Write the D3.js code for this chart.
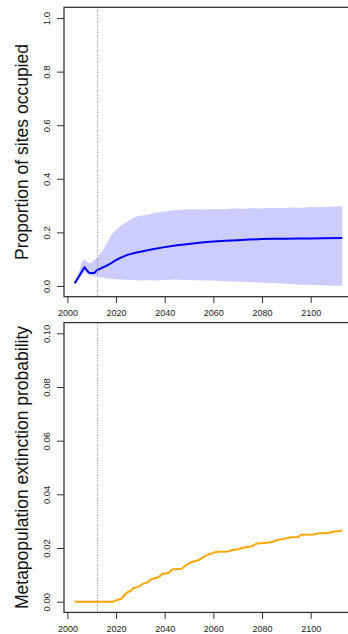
<!DOCTYPE html>
<html>
<head>
<meta charset="utf-8">
<script src="https://cdn.jsdelivr.net/npm/d3@7"></script>
<style>
  body { margin: 0; background: #fff; }
  text { font-family: "Liberation Sans", Arial, sans-serif; }
</style>
</head>
<body>
<div class="chart"></div>
<script>
// top panel: proportion of sites occupied
const meanYears = [2003, 2004, 2005, 2006, 2007, 2008, 2009, 2010, 2011, 2012, 2014, 2016, 2018, 2020,
  2022, 2025, 2028, 2030, 2035, 2040, 2045, 2050, 2055, 2060, 2065, 2070, 2075, 2080, 2085, 2090,
  2095, 2100, 2105, 2113];
const meanOcc = [0.01, 0.025, 0.04, 0.055, 0.07, 0.058, 0.049, 0.048, 0.048, 0.058, 0.067, 0.075, 0.085, 0.097,
  0.106, 0.117, 0.124, 0.128, 0.137, 0.145, 0.152, 0.157, 0.162, 0.166, 0.169, 0.171, 0.173, 0.175, 0.176, 0.176,
  0.177, 0.177, 0.178, 0.179];

const bandYears = [2003, 2004, 2005, 2006, 2007, 2008, 2009, 2010, 2011, 2012, 2014, 2016, 2018, 2020,
  2022, 2024, 2026, 2028, 2030, 2033, 2036, 2040, 2044, 2048, 2052, 2056, 2060, 2064, 2068, 2072,
  2076, 2080, 2084, 2088, 2092, 2096, 2100, 2104, 2108, 2113];
const bandUpper = [0.015, 0.035, 0.06, 0.09, 0.1, 0.09, 0.085, 0.088, 0.095, 0.105, 0.125, 0.155, 0.19, 0.21,
  0.225, 0.237, 0.248, 0.258, 0.262, 0.266, 0.272, 0.278, 0.283, 0.285, 0.286, 0.285, 0.287, 0.286, 0.289, 0.288,
  0.29, 0.289, 0.292, 0.29, 0.293, 0.292, 0.295, 0.294, 0.297, 0.298];
const bandLower = [0.005, 0.015, 0.025, 0.04, 0.05, 0.045, 0.04, 0.038, 0.036, 0.035, 0.032, 0.029, 0.027, 0.025,
  0.024, 0.023, 0.022, 0.021, 0.02, 0.021, 0.02, 0.022, 0.024, 0.022, 0.021, 0.02, 0.02, 0.018, 0.017, 0.016,
  0.014, 0.012, 0.011, 0.009, 0.007, 0.005, 0.004, 0.003, 0.002, 0.001];

// bottom panel: metapopulation extinction probability
const extYears = [2003, 2019, 2020, 2022, 2023, 2024, 2025, 2026, 2027, 2029, 2030, 2031, 2033, 2034, 2035,
  2037, 2038, 2039, 2041, 2042, 2043, 2047, 2048, 2050, 2052, 2054, 2056, 2058, 2060, 2062, 2066, 2068,
  2070, 2072, 2075, 2076, 2078, 2082, 2084, 2086, 2088, 2090, 2092, 2095, 2096, 2101, 2103, 2107, 2109,
  2111, 2113];
const extProb = [0, 0, 0.0005, 0.001, 0.002, 0.003, 0.0037, 0.004, 0.005, 0.0055, 0.006, 0.0067, 0.0072, 0.008, 0.0085,
  0.009, 0.0095, 0.0103, 0.0106, 0.011, 0.012, 0.0123, 0.013, 0.0143, 0.015, 0.0155, 0.0167, 0.0176, 0.0182, 0.0186, 0.0187, 0.0193,
  0.0194, 0.0201, 0.0205, 0.0208, 0.0217, 0.022, 0.0222, 0.0229, 0.0233, 0.0236, 0.024, 0.0241, 0.0249, 0.025, 0.0254, 0.0256, 0.026,
  0.0262, 0.0265];

const xTicks = [2000, 2020, 2040, 2060, 2080, 2100];
const occTicks = [0, 0.2, 0.4, 0.6, 0.8, 1.0];
const extTicks = [0, 0.02, 0.04, 0.06, 0.08, 0.10];
const vlineYear = 2012.4;

const width = 348, height = 634;

const svg = d3.select('.chart')
  .append('svg')
  .attr('width', width)
  .attr('height', height);

// R style: data range padded by 4%
const x = d3.scaleLinear().domain([1998.6, 2117.4]).range([64, 353]);

function panel(top, bottom, ydom, ticks, fmt, title) {
  const y = d3.scaleLinear().domain(ydom).range([bottom, top]);
  const g = svg.append('g');

  // y axis
  const ya = g.append('g')
    .attr('transform', 'translate(64,0)')
    .call(d3.axisLeft(y).tickValues(ticks).tickSize(7).tickFormat(fmt));
  ya.select('.domain').remove();
  ya.selectAll('line').attr('stroke', '#333');
  ya.selectAll('text')
    .attr('x', null).attr('dy', null)
    .attr('transform', 'translate(-14,0) rotate(-90)')
    .attr('text-anchor', 'middle')
    .attr('font-size', '9.5px')
    .attr('font-family', '"Liberation Sans", Arial, sans-serif')
    .attr('fill', '#222');

  // x axis
  const xa = g.append('g')
    .attr('transform', 'translate(0,' + bottom + ')')
    .call(d3.axisBottom(x).tickValues(xTicks).tickSize(6.5).tickFormat(d3.format('d')));
  xa.select('.domain').remove();
  xa.selectAll('line').attr('stroke', '#333');
  xa.selectAll('text')
    .attr('y', 19.5).attr('dy', null)
    .attr('font-size', '9px')
    .attr('font-family', '"Liberation Sans", Arial, sans-serif')
    .attr('fill', '#222');

  // title
  g.append('text')
    .attr('transform', 'translate(28,' + (top + bottom) / 2 + ') rotate(-90)')
    .attr('text-anchor', 'middle')
    .attr('font-size', '17.5px')
    .attr('fill', '#111')
    .text(title);

  return { g, y };
}

// ---- top
const p1 = panel(7.3, 296.7, [-0.04, 1.04], occTicks, d3.format('.1f'), 'Proportion of sites occupied');

const band = bandYears.map((yr, i) => ({ yr, lo: bandLower[i], hi: bandUpper[i] }));
p1.g.append('path')
  .datum(band)
  .attr('fill', '#ccccff')
  .attr('d', d3.area().x(d => x(d.yr)).y0(d => p1.y(d.lo)).y1(d => p1.y(d.hi)));

p1.g.append('path')
  .datum(meanYears.map((yr, i) => [yr, meanOcc[i]]))
  .attr('fill', 'none')
  .attr('stroke', '#0000ff')
  .attr('stroke-width', 2)
  .attr('stroke-linejoin', 'round')
  .attr('d', d3.line().x(d => x(d[0])).y(d => p1.y(d[1])));

// ---- bottom
const p2 = panel(322.6, 612.4, [-0.004, 0.104], extTicks, d3.format('.2f'), 'Metapopulation extinction probability');

p2.g.append('path')
  .datum(extYears.map((yr, i) => [yr, extProb[i]]))
  .attr('fill', 'none')
  .attr('stroke', '#ffa500')
  .attr('stroke-width', 2)
  .attr('stroke-linejoin', 'round')
  .attr('d', d3.line().x(d => x(d[0])).y(d => p2.y(d[1])));

// boxes + dotted year line
[[p1, 7.3, 296.7], [p2, 322.6, 612.4]].forEach(([p, t, b]) => {
  p.g.append('line')
    .attr('x1', x(vlineYear)).attr('x2', x(vlineYear))
    .attr('y1', t).attr('y2', b)
    .attr('stroke', '#888')
    .attr('stroke-width', 1)
    .attr('stroke-dasharray', '1,1.5');
  p.g.append('rect')
    .attr('x', 64).attr('y', t)
    .attr('width', 289).attr('height', b - t)
    .attr('fill', 'none')
    .attr('stroke', '#333')
    .attr('stroke-width', 1.3);
});
</script>
</body>
</html>
